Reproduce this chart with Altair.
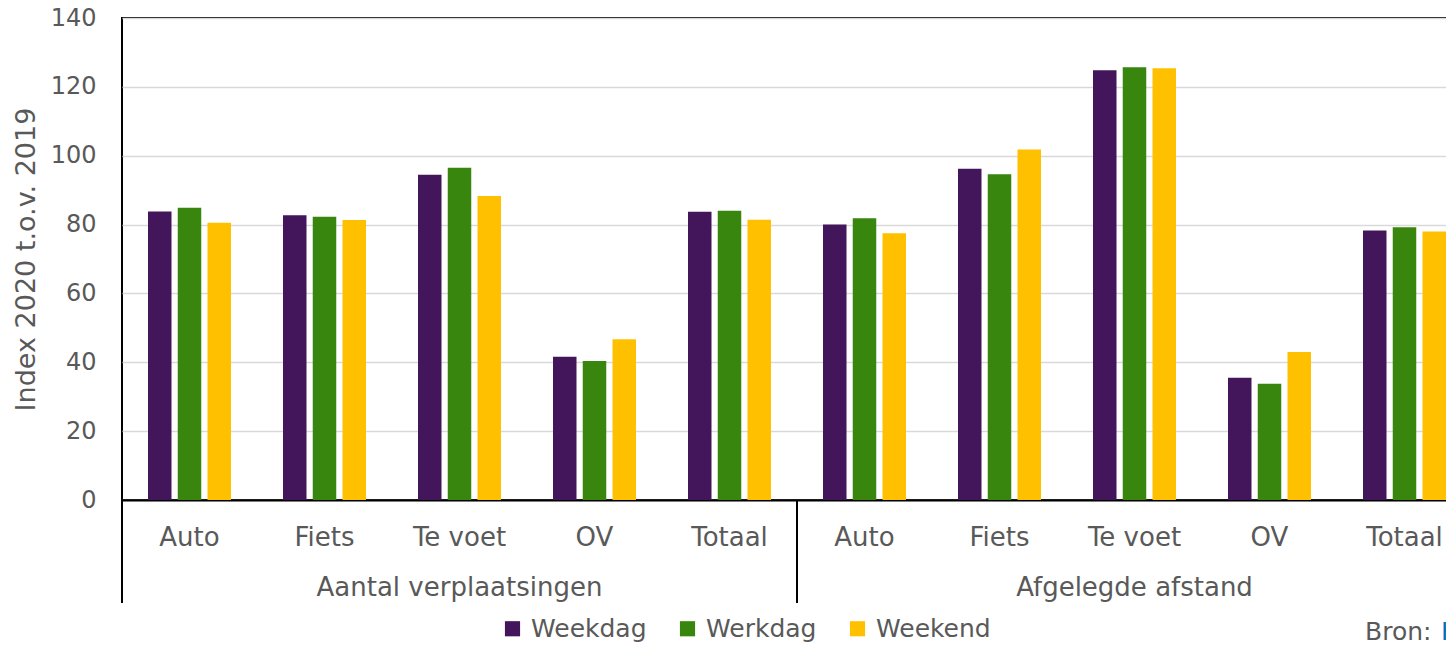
import altair as alt
import pandas as pd

modes = ["Auto", "Fiets", "Te voet", "OV", "Totaal"]
groups = ["Aantal verplaatsingen", "Afgelegde afstand"]
series = ["Weekdag", "Werkdag", "Weekend"]
colors = ["#43165b", "#38860e", "#ffc000"]

weekdag = [83.8, 82.7, 94.5, 41.6, 83.7, 80.0, 96.2, 124.8, 35.5, 78.3]
werkdag = [84.9, 82.3, 96.5, 40.4, 84.0, 81.8, 94.6, 125.7, 33.8, 79.2]
weekend = [80.5, 81.3, 88.3, 46.7, 81.4, 77.5, 101.8, 125.4, 43.0, 78.0]

y_ticks = [0, 20, 40, 60, 80, 100, 120, 140]

keys = [f"{g}|{m}" for g in groups for m in modes]
rows = []
for s, vals in zip(series, [weekdag, werkdag, weekend]):
    for k, v in zip(keys, vals):
        rows.append({"key": k, "serie": s, "waarde": v})
df = pd.DataFrame(rows)

W, H = 1350, 482
FONT = "DejaVu Sans"
GREY = "#595959"

xscale = alt.Scale(domain=keys, paddingInner=0, paddingOuter=0)

bars = alt.Chart(df).mark_bar().encode(
    x=alt.X("key:N", scale=xscale, title=None,
            axis=alt.Axis(labelExpr="split(datum.label,'|')[1]", labelAngle=0,
                          labelFontSize=26, labelColor=GREY, labelFont=FONT,
                          labelPadding=24, ticks=False, domainColor="black",
                          domainWidth=2, grid=False, labelOverlap=False,
                          labelBound=False)),
    xOffset=alt.XOffset("serie:N", sort=series,
                        scale=alt.Scale(paddingInner=0.21, paddingOuter=0.874)),
    y=alt.Y("waarde:Q", title="Index 2020 t.o.v. 2019",
            scale=alt.Scale(domain=[0, 140], nice=False),
            axis=alt.Axis(values=y_ticks, ticks=False, domain=False,
                          labelFontSize=24, labelColor=GREY, labelFont=FONT,
                          labelPadding=26, gridColor="#d9d9d9", gridWidth=1.5,
                          titleFontSize=27, titleColor=GREY, titleFont=FONT,
                          titleFontWeight="normal", titlePadding=10)),
    color=alt.Color("serie:N", sort=series,
                    scale=alt.Scale(domain=series, range=colors),
                    legend=alt.Legend(title=None, orient="none", direction="horizontal",
                                      legendX=378, legendY=598, symbolType="square",
                                      symbolSize=230, symbolStrokeWidth=0,
                                      labelFontSize=25, labelColor=GREY, labelFont=FONT,
                                      labelOffset=6, columnPadding=28, padding=0)),
)

grp_df = pd.DataFrame({"key": [f"{g}|Te voet" for g in groups], "label": groups})
grp_text = alt.Chart(grp_df).mark_text(
    fontSize=26, font=FONT, color=GREY, baseline="middle"
).encode(
    x=alt.X("key:N", scale=xscale, title=None),
    y=alt.value(H + 88),
    text="label:N",
)

sep_df = pd.DataFrame({"key": [keys[0], keys[5]]})
sep = alt.Chart(sep_df).mark_rule(color="black", strokeWidth=2).encode(
    x=alt.X("key:N", scale=xscale, title=None, bandPosition=0),
    y=alt.value(H), y2=alt.value(H + 103),
)
sep_end = alt.Chart(pd.DataFrame({"key": [keys[-1]]})).mark_rule(
    color="black", strokeWidth=2
).encode(
    x=alt.X("key:N", scale=xscale, title=None, bandPosition=1),
    y=alt.value(H), y2=alt.value(H + 103),
)

bron = alt.Chart(pd.DataFrame({"t": ["Bron:"]})).mark_text(
    fontSize=25, font=FONT, color=GREY, align="left", baseline="alphabetic"
).encode(text="t:N", x=alt.value(1243), y=alt.value(622))
bron_link = alt.Chart(pd.DataFrame({"t": ["KiM"]})).mark_text(
    fontSize=25, font=FONT, color="#0070c0", align="left", baseline="alphabetic"
).encode(text="t:N", x=alt.value(1319), y=alt.value(622))

chart = alt.layer(bars, grp_text, sep, sep_end, bron, bron_link).properties(
    width=W, height=H,
    autosize=alt.AutoSizeParams(type="none"),
    padding={"left": 114, "top": 10, "right": -26, "bottom": 145},
).configure_view(stroke="black", strokeWidth=2)

chart.save("out.html", embed_options={"renderer": "svg", "actions": False})
